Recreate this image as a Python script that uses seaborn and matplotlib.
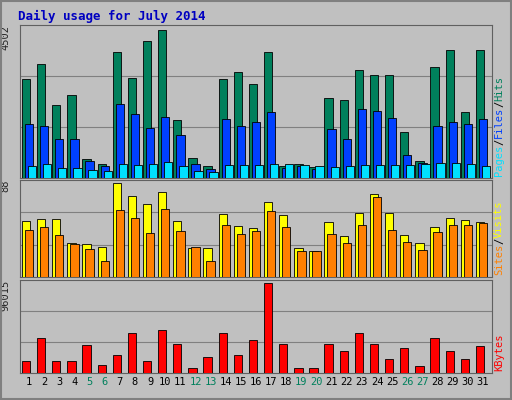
import matplotlib
matplotlib.use("Agg")
import matplotlib.pyplot as plt
import seaborn as sns
import numpy as np

sns.set_style("white")
plt.rcParams['font.family'] = ['DejaVu Sans Mono', 'DejaVu Sans']

days = list(range(1, 32))
weekend = {5, 6, 12, 13, 19, 20, 26, 27}
hits_y = [78,63,104,94,158,163,51,77,40,29,119,157,165,78,71,83,51,165,163,166,97,99,69,74,74,131,160,66,49,111,49]
files_y = [123,125,138,138,160,165,103,113,127,116,134,163,168,118,125,121,111,167,165,168,128,138,108,110,117,154,162,125,121,123,118]
pages_y = [165,163,167,167,169,170,163,164,163,161,165,170,171,164,164,164,163,163,164,165,166,165,164,164,164,164,163,162,162,163,165]
hits = [round((177 - y) / 149 * 4502) for y in hits_y]
files = [round((177 - y) / 149 * 4502) for y in files_y]
pages = [round((177 - y) / 149 * 4502) for y in pages_y]
visits_y = [221,219,219,242,243,246,184,196,205,193,221,247,247,214,225,227,203,215,247,250,222,236,213,194,213,235,242,226,218,220,222]
sites_y = [229,226,235,243,248,259,210,218,233,209,231,246,259,224,234,231,211,226,250,250,234,242,224,197,229,241,249,232,224,224,223]
visits = [round((275 - y) / 91 * 88) for y in visits_y]
sites = [round((275 - y) / 91 * 88) for y in sites_y]
kb_y = [364,340,364,364,347,368,358,335,364,332,346,371,360,335,358,342,284,346,371,371,346,354,335,346,362,351,369,340,354,362,348]
kbytes = [round((376 - y) / 92 * 96015) for y in kb_y]

fig = plt.figure(figsize=(5.12, 4.0), dpi=100)
fig.patch.set_facecolor("#C0C0C0")
fig.add_artist(plt.Rectangle((0.002, 0.002), 0.996, 0.996, fill=False, ec="#808080", lw=1.5, transform=fig.transFigure))
fig.text(0.035, 0.96, "Daily usage for July 2014", color="#0000C0", fontsize=9, fontweight="bold", va="center")

x = np.array(days)
L, W = 0.039, 0.922
axes = [fig.add_axes([L, 0.555, W, 0.3825]),
        fig.add_axes([L, 0.3075, W, 0.2425]),
        fig.add_axes([L, 0.0675, W, 0.2325])]
series = [[(hits, "#00805C"), (files, "#0040FF"), (pages, "#00E0FF")],
          [(visits, "#FFFF00"), (sites, "#FF8000")],
          [(kbytes, "#FF0000")]]
maxes = [4502, 88, 96015]
for ax, ser, m in zip(axes, series, maxes):
    ax.set_facecolor("#C0C0C0")
    for i, (vals, col) in enumerate(ser):
        ax.bar(x - 0.2 + 0.2 * i, vals, width=0.55, color=col, edgecolor="black", lw=0.6, zorder=3)
    ax.set_xlim(0.4, 31.6)
    ax.set_ylim(0, m * 1.03)
    for f in (1/3, 2/3):
        ax.axhline(m * 1.03 * f, color="#808080", lw=0.8, zorder=1)
    ax.set_yticks([])
    ax.text(-0.02, 1.0, str(m), transform=ax.transAxes, rotation=90, ha="right", va="top", fontsize=7.5)
    for s in ax.spines.values():
        s.set_color("#606060")
    ax.set_xticks([])

axes[2].set_xticks(days)
axes[2].set_xticklabels([str(d) for d in days], fontsize=7.5)
for lab, d in zip(axes[2].get_xticklabels(), days):
    lab.set_color("#00805C" if d in weekend else "black")
axes[2].tick_params(axis="x", length=0, pad=3)

fig.canvas.draw()
renderer = fig.canvas.get_renderer()

def rlabels(ax, parts):
    pos = ax.get_position()
    xf = pos.x1 + 0.004
    yf = pos.y0 + 0.005
    for txt, col in parts:
        t = fig.text(xf, yf, txt, rotation=90, ha="left", va="bottom", fontsize=7.5, color=col)
        bb = t.get_window_extent(renderer)
        yf += bb.height / fig.bbox.height

rlabels(axes[0], [("Pages", "#00E0FF"), ("/", "black"), ("Files", "#0040FF"), ("/", "black"), ("Hits", "#00805C")])
rlabels(axes[1], [("Sites", "#FF8000"), ("/", "black"), ("Visits", "#FFFF00")])
rlabels(axes[2], [("KBytes", "#FF0000")])

fig.savefig("out.png", dpi=100, facecolor=fig.get_facecolor())
